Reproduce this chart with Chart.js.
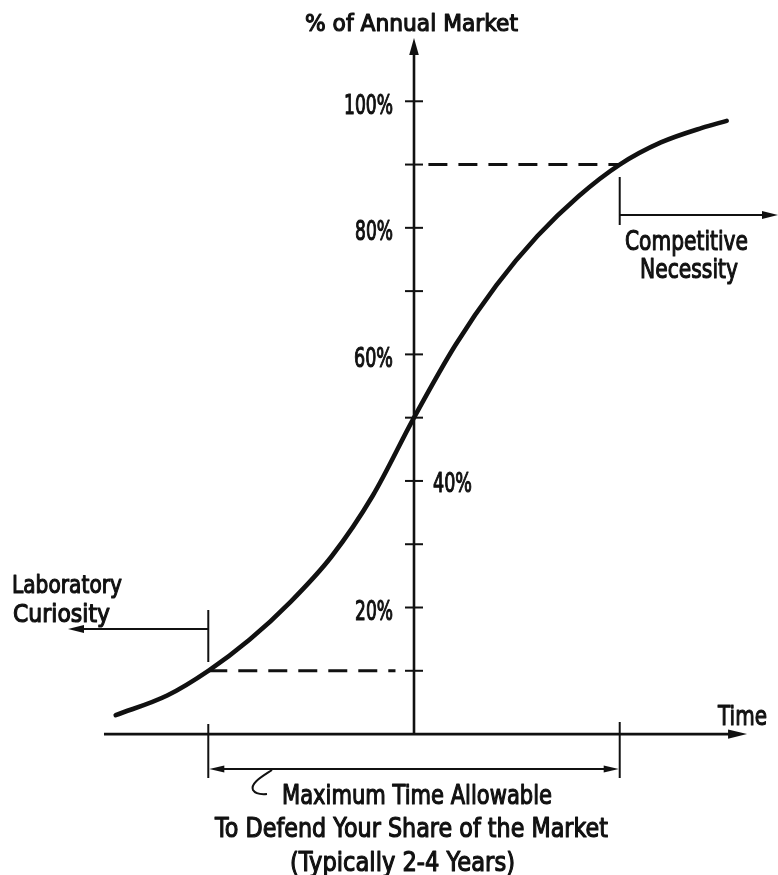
<!DOCTYPE html>
<html>
<head>
<meta charset="utf-8">
<script src="https://cdn.jsdelivr.net/npm/chart.js@4.4.1/dist/chart.umd.min.js"></script>
<style>
  html, body { margin: 0; padding: 0; background: #ffffff; }
  #wrap { width: 778px; height: 875px; }
  canvas { display: block; }
</style>
</head>
<body>
<div id="wrap"><canvas id="c" width="778" height="875"></canvas></div>
<script>
// ---------- data ----------
// time in "phase units": -1 = Laboratory Curiosity threshold, +1 = Competitive Necessity
const timeValues  = [-1.45, -1.2, -1.0, -0.8, -0.6, -0.4, -0.2, 0.0, 0.2, 0.4, 0.6, 0.8, 1.0, 1.2, 1.4, 1.52];
const marketShare = [3.0, 6.1, 10.0, 14.9, 20.9, 28.1, 37.7, 50.0, 61.4, 70.9, 78.7, 85.0, 90.0, 93.5, 95.8, 96.9];

const lowerGuideTime = [-1.00, -0.09];   // dashed line at 10%
const lowerGuideLevel = [10, 10];
const upperGuideTime = [0.07, 1.00];     // dashed line at 90%
const upperGuideLevel = [90, 90];

const yTickValues = [10, 20, 30, 40, 50, 60, 70, 80, 90, 100];
const leftTickLabels = ["100%", "80%", "60%", "20%"];
const leftTickLabelValues = [100, 80, 60, 20];
const rightTickLabels = ["40%"];
const rightTickLabelValues = [40];

const yAxisTitle = "% of Annual Market";
const xAxisTitle = "Time";
const leftNote = ["Laboratory", "Curiosity"];
const rightNote = ["Competitive", "Necessity"];
const bottomNote = ["Maximum Time Allowable", "To Defend Your Share of the Market", "(Typically 2-4 Years)"];
const phaseStart = -1, phaseEnd = 1;

// ---------- chart ----------
const toPoints = (xs, ys) => xs.map((x, i) => ({ x: x, y: ys[i] }));
const FONT = '"DejaVu Sans", "Liberation Sans", sans-serif';

function fitText(ctx, txt, left, baseline, width, size) {
  ctx.save();
  ctx.font = 'normal ' + size + 'px ' + FONT;
  const m = ctx.measureText(txt).width;
  ctx.translate(left, baseline);
  ctx.scale(width / m, 1);
  ctx.textAlign = 'left';
  ctx.textBaseline = 'alphabetic';
  ctx.fillStyle = '#111';
  ctx.strokeStyle = '#111';
  ctx.lineWidth = 1.2;
  ctx.lineJoin = 'round';
  ctx.fillText(txt, 0, 0);
  ctx.strokeText(txt, 0, 0);
  ctx.restore();
}
function line(ctx, x1, y1, x2, y2, w) {
  ctx.beginPath(); ctx.lineWidth = w; ctx.moveTo(x1, y1); ctx.lineTo(x2, y2); ctx.stroke();
}
function arrowHead(ctx, tipX, tipY, dir, len, half) {
  ctx.beginPath();
  if (dir === 'up') { ctx.moveTo(tipX, tipY); ctx.lineTo(tipX - half, tipY + len); ctx.lineTo(tipX + half, tipY + len); }
  if (dir === 'left') { ctx.moveTo(tipX, tipY); ctx.lineTo(tipX + len, tipY - half); ctx.lineTo(tipX + len, tipY + half); }
  if (dir === 'right') { ctx.moveTo(tipX, tipY); ctx.lineTo(tipX - len, tipY - half); ctx.lineTo(tipX - len, tipY + half); }
  ctx.closePath(); ctx.fill();
}

const diagram = {
  id: 'diagram',
  afterDraw(chart) {
    const ctx = chart.ctx;
    const xs = chart.scales.x, ys = chart.scales.y;
    const X = v => xs.getPixelForValue(v);
    const Y = v => ys.getPixelForValue(v);
    const x0 = X(0), y0 = Y(0);
    ctx.save();
    ctx.strokeStyle = '#111'; ctx.fillStyle = '#111'; ctx.lineCap = 'butt';

    // y axis with arrow
    const yTip = Y(ys.max);
    line(ctx, x0, y0 + 1, x0, yTip + 14, 2.6);
    arrowHead(ctx, x0, yTip, 'up', 17, 4.8);
    // y ticks
    yTickValues.forEach(v => line(ctx, x0 - 9, Y(v), x0 + 9, Y(v), 2));
    // tick labels
    const leftW = { "100%": 49, "80%": 38, "60%": 39, "20%": 38 };
    leftTickLabels.forEach((t, i) => {
      const w = leftW[t] || 39;
      fitText(ctx, t, x0 - 21 - w, Y(leftTickLabelValues[i]) + 12.5, w, 27);
    });
    rightTickLabels.forEach((t, i) => {
      fitText(ctx, t, x0 + 19, Y(rightTickLabelValues[i]) + 11, 39, 27);
    });

    // x axis with arrow
    const xStart = X(-1.507), xTip = X(1.619);
    line(ctx, xStart, y0, xTip - 16, y0, 2.8);
    arrowHead(ctx, xTip, y0, 'right', 19, 4.6);

    // axis titles
    fitText(ctx, yAxisTitle, 305, 31, 213, 23);
    fitText(ctx, xAxisTitle, 718, 725, 49, 27);

    // Laboratory curiosity bracket
    const xa = X(phaseStart);
    line(ctx, xa, 610, xa, 662, 2);
    line(ctx, xa, 629, 82, 629, 2);
    arrowHead(ctx, 68, 629, 'left', 16, 4);
    fitText(ctx, leftNote[0], 12, 593, 110, 25);
    fitText(ctx, leftNote[1], 13, 622, 97, 25);

    // Competitive necessity bracket
    const xb = X(phaseEnd);
    line(ctx, xb, 177, xb, 225, 2);
    line(ctx, xb, 215, 764, 215, 2);
    arrowHead(ctx, 778, 215, 'right', 16, 4);
    fitText(ctx, rightNote[0], 625, 250, 123, 27);
    fitText(ctx, rightNote[1], 640, 278, 98, 27);

    // bottom span bracket
    line(ctx, xa, 724, xa, 778, 2);
    line(ctx, xb, 722, xb, 778, 2);
    line(ctx, xa + 12, 769, xb - 12, 769, 2);
    arrowHead(ctx, xa + 1, 769, 'left', 15, 3.5);
    arrowHead(ctx, xb - 1, 769, 'right', 15, 3.5);
    // squiggle
    ctx.beginPath(); ctx.lineWidth = 2;
    ctx.moveTo(272, 770);
    ctx.bezierCurveTo(263, 776, 250, 783, 253, 790);
    ctx.quadraticCurveTo(256, 795, 267, 794);
    ctx.stroke();

    fitText(ctx, bottomNote[0], 282, 804, 270, 26);
    fitText(ctx, bottomNote[1], 215, 837, 393, 26);
    fitText(ctx, bottomNote[2], 290, 871, 225, 26);
    ctx.restore();
  }
};

new Chart(document.getElementById('c').getContext('2d'), {
  type: 'scatter',
  data: {
    datasets: [
      {
        label: 'Market share',
        data: toPoints(timeValues, marketShare),
        showLine: true,
        borderColor: '#111',
        borderWidth: 4.6,
        borderCapStyle: 'round',
        borderJoinStyle: 'round',
        pointRadius: 0,
        cubicInterpolationMode: 'monotone',
        fill: false
      },
      {
        label: '10% guide',
        data: toPoints(lowerGuideTime, lowerGuideLevel),
        showLine: true,
        borderColor: '#111',
        borderWidth: 3,
        borderDash: [19, 11],
        pointRadius: 0,
        fill: false
      },
      {
        label: '90% guide',
        data: toPoints(upperGuideTime, upperGuideLevel),
        showLine: true,
        borderColor: '#111',
        borderWidth: 3,
        borderDash: [19, 11],
        pointRadius: 0,
        fill: false
      }
    ]
  },
  options: {
    responsive: false,
    animation: false,
    events: [],
    layout: { padding: { left: 54, right: 4, top: 38, bottom: 109.3 } },
    plugins: { legend: { display: false }, tooltip: { enabled: false }, title: { display: false } },
    scales: {
      x: { type: 'linear', min: -1.75, max: 1.75, display: false },
      y: { type: 'linear', min: -5, max: 110, display: false }
    }
  },
  plugins: [diagram]
});
</script>
</body>
</html>
